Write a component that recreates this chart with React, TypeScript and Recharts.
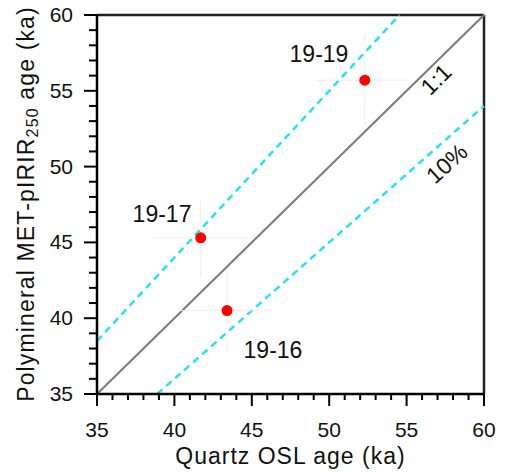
import { ScatterChart, Scatter, XAxis, YAxis, ReferenceLine, ReferenceDot, ErrorBar, Label } from 'recharts';

const samples = ['19-17', '19-16', '19-19'];
const quartzAge = [41.7, 43.4, 52.3];
const quartzErr = [3.1, 3.0, 3.2];
const pirirAge = [45.3, 40.5, 55.7];
const pirirErr = [2.6, 2.8, 3.0];

const axisTicks = [35, 36, 37, 38, 39, 40, 41, 42, 43, 44, 45, 46, 47, 48, 49, 50, 51, 52, 53, 54, 55, 56, 57, 58, 59, 60];
const deviation = 0.1;

// annotation text, anchored in data units
const noteText = ['19-19', '19-17', '19-16', '1:1', '10%'];
const noteX = [49.34, 39.2, 46.37, 56.9, 57.6];
const noteY = [57.4, 46.85, 37.9, 55.75, 50.2];
const noteAngle = [0, 0, 0, -45, -42];

const data = samples.map((s, i) => ({
    name: s,
    x: quartzAge[i],
    y: pirirAge[i],
    ex: quartzErr[i],
    ey: pirirErr[i],
}));

const FONT = '"Liberation Sans", Arial, sans-serif';

const XTick = (props: any) => {
    const { x, y, payload } = props;
    const major = payload.value % 5 === 0;
    return (
        <g>
            <line x1={x} y1={y} x2={x} y2={y + (major ? 12 : 6)} stroke="#000" strokeWidth={2} />
            {major && (
                <text x={x} y={y + 43} textAnchor="middle" fontSize={21} fontFamily={FONT} fill="#111">
                    {payload.value}
                </text>
            )}
        </g>
    );
};

const YTick = (props: any) => {
    const { x, y, payload } = props;
    const major = payload.value % 5 === 0;
    return (
        <g>
            <line x1={x} y1={y} x2={x - (major ? 13 : 8)} y2={y} stroke="#000" strokeWidth={2} />
            {major && (
                <text x={x - 24} y={y + 7} textAnchor="end" fontSize={21} fontFamily={FONT} fill="#111">
                    {payload.value}
                </text>
            )}
        </g>
    );
};

const noteLabel = (text: string, angle: number) => (props: any) => {
    const { viewBox } = props;
    const cx = viewBox.x + (viewBox.width || 0) / 2;
    const cy = viewBox.y + (viewBox.height || 0) / 2;
    return (
        <text
            x={cx}
            y={cy}
            textAnchor="middle"
            dominantBaseline="central"
            fontSize={23}
            fontFamily={FONT}
            fill="#111"
            transform={`rotate(${angle} ${cx} ${cy})`}
        >
            {text}
        </text>
    );
};

export default function App() {
    return (
        <div style={{ position: 'absolute', left: 0, top: 0, background: '#fff' }}>
            <ScatterChart width={505} height={472} margin={{ top: 15, right: 21, left: 0, bottom: 0 }}>
                <XAxis
                    type="number"
                    dataKey="x"
                    domain={[35, 60]}
                    ticks={axisTicks}
                    interval={0}
                    tickSize={0}
                    tickMargin={0}
                    tick={<XTick />}
                    tickLine={false}
                    height={78}
                    axisLine={{ stroke: '#000', strokeWidth: 2.5 }}
                    allowDataOverflow
                >
                    <Label
                        content={(p: any) => {
                            const vb = p.viewBox;
                            return (
                                <text x={vb.x + vb.width / 2} y={464} textAnchor="middle" fontSize={23} letterSpacing={1} fontFamily={FONT} fill="#111">
                                    Quartz OSL age (ka)
                                </text>
                            );
                        }}
                    />
                </XAxis>
                <YAxis
                    type="number"
                    dataKey="y"
                    domain={[35, 60]}
                    ticks={axisTicks}
                    interval={0}
                    tickSize={0}
                    tickMargin={0}
                    tick={<YTick />}
                    tickLine={false}
                    width={97}
                    axisLine={{ stroke: '#000', strokeWidth: 2.5 }}
                    allowDataOverflow
                >
                    <Label
                        content={() => {
                            const cx = 26;
                            const cy = 204;
                            return (
                                <text
                                    x={cx}
                                    y={cy}
                                    textAnchor="middle"
                                    dominantBaseline="central"
                                    fontSize={23}
                                    letterSpacing={1.15}
                                    fontFamily={FONT}
                                    fill="#111"
                                    transform={`rotate(-90 ${cx} ${cy})`}
                                >
                                    Polymineral MET-pIRIR
                                    <tspan fontSize={16} dy={6}>250</tspan>
                                    <tspan dy={-6}> age (ka)</tspan>
                                </text>
                            );
                        }}
                    />
                </YAxis>
                <ReferenceLine y={60} stroke="#222" strokeWidth={2.5} />
                <ReferenceLine x={60} stroke="#222" strokeWidth={2.5} />
                <ReferenceLine
                    segment={[{ x: 35, y: 35 }, { x: 60, y: 60 }]}
                    stroke="#7a7a7a"
                    strokeWidth={2}
                />
                <ReferenceLine
                    segment={[{ x: 35, y: 35 * (1 + deviation) }, { x: 60 / (1 + deviation), y: 60 }]}
                    stroke="#22e5ee"
                    strokeWidth={2.5}
                    strokeDasharray="7 5"
                />
                <ReferenceLine
                    segment={[{ x: 35 / (1 - deviation), y: 35 }, { x: 60, y: 60 * (1 - deviation) }]}
                    stroke="#22e5ee"
                    strokeWidth={2.5}
                    strokeDasharray="7 5"
                />
                {noteText.map((t, i) => (
                    <ReferenceDot
                        key={t}
                        x={noteX[i]}
                        y={noteY[i]}
                        r={0}
                        fill="none"
                        stroke="none"
                        label={noteLabel(t, noteAngle[i])}
                    />
                ))}
                <Scatter data={data} fill="#ff0000" isAnimationActive={false} shape={(p: any) => <circle cx={p.cx} cy={p.cy} r={5.5} fill="#ff0000" />}>
                    <ErrorBar dataKey="ex" direction="x" width={0} stroke="#fbe9e9" strokeWidth={1} />
                    <ErrorBar dataKey="ey" direction="y" width={0} stroke="#fbe9e9" strokeWidth={1} />
                </Scatter>
            </ScatterChart>
        </div>
    );
}
